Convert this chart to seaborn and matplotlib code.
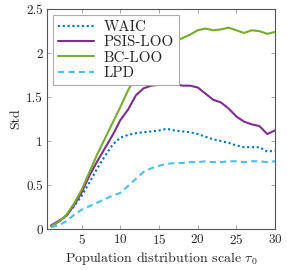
import matplotlib
matplotlib.use("Agg")
import matplotlib.pyplot as plt
import numpy as np
import pandas as pd
import seaborn as sns

tau0 = list(range(1, 31))
waic = [0.03, 0.08, 0.15, 0.26, 0.38, 0.53, 0.69, 0.83, 0.96, 1.04, 1.07, 1.09, 1.10, 1.11, 1.12, 1.14, 1.12, 1.11, 1.10, 1.08,
        1.05, 1.02, 1.00, 0.98, 0.95, 0.93, 0.93, 0.93, 0.88, 0.89]
psis_loo = [0.04, 0.09, 0.15, 0.27, 0.42, 0.61, 0.77, 0.92, 1.07, 1.24, 1.36, 1.52, 1.60, 1.63, 1.64, 1.68, 1.65, 1.63, 1.63, 1.61,
            1.54, 1.47, 1.44, 1.37, 1.28, 1.22, 1.19, 1.17, 1.08, 1.12]
bc_loo = [0.03, 0.08, 0.16, 0.29, 0.45, 0.65, 0.85, 1.03, 1.21, 1.39, 1.58, 1.74, 1.87, 1.97, 2.04, 2.09, 2.13, 2.17, 2.21, 2.26,
          2.28, 2.26, 2.27, 2.29, 2.26, 2.23, 2.26, 2.25, 2.22, 2.24]
lpd = [0.02, 0.04, 0.09, 0.16, 0.22, 0.26, 0.30, 0.34, 0.38, 0.41, 0.49, 0.57, 0.65, 0.69, 0.72, 0.74, 0.75, 0.75, 0.76, 0.76,
       0.77, 0.76, 0.76, 0.77, 0.77, 0.76, 0.77, 0.77, 0.76, 0.77]

methods = ["WAIC", "PSIS-LOO", "BC-LOO", "LPD"]
colors = {"WAIC": "#0072BD", "PSIS-LOO": "#7E2F8E", "BC-LOO": "#77AC30", "LPD": "#4DBEEE"}
dashes = {"WAIC": (1, 1.3), "PSIS-LOO": "", "BC-LOO": "", "LPD": (3, 2)}

df = pd.DataFrame({
    "tau0": tau0 * 4,
    "Std": waic + psis_loo + bc_loo + lpd,
    "method": sum([[m] * len(tau0) for m in methods], []),
})

sns.set_style("ticks")
plt.rcParams["font.family"] = ["cmr10", "DejaVu Serif"]
plt.rcParams["mathtext.fontset"] = "cm"
plt.rcParams["axes.formatter.use_mathtext"] = True

fig = plt.figure(figsize=(2.87, 2.70), dpi=100)
ax = fig.add_axes([0.164, 0.152, 0.794, 0.814])

sns.lineplot(data=df, x="tau0", y="Std", hue="method", style="method", hue_order=methods, style_order=methods,
             palette=colors, dashes=dashes, linewidth=1.5, ax=ax)

ax.set_xlim(0.5, 30)
ax.set_ylim(0, 2.5)
ax.set_xticks([5, 10, 15, 20, 25, 30])
ax.set_yticks([0, 0.5, 1, 1.5, 2, 2.5])
ax.set_yticklabels(["0", "0.5", "1", "1.5", "2", "2.5"])
ax.set_xlabel(r"Population distribution scale $\tau_0$", fontsize=10, labelpad=2)
ax.set_ylabel("Std", fontsize=10, labelpad=3)
ax.tick_params(direction="in", length=3, width=0.6, color="#999999", labelsize=9.5,
               top=True, right=True, pad=3)
for s in ax.spines.values():
    s.set_color("#555555")
    s.set_linewidth(0.8)

leg = ax.legend(loc="upper left", fontsize=10.8, frameon=True, fancybox=False, edgecolor="#aaaaaa",
                framealpha=1, handlelength=2.4, borderaxespad=0.4, labelspacing=0.1,
                borderpad=0.35, handletextpad=0.6)
leg.get_frame().set_linewidth(0.8)

fig.savefig("out.png", dpi=100)
